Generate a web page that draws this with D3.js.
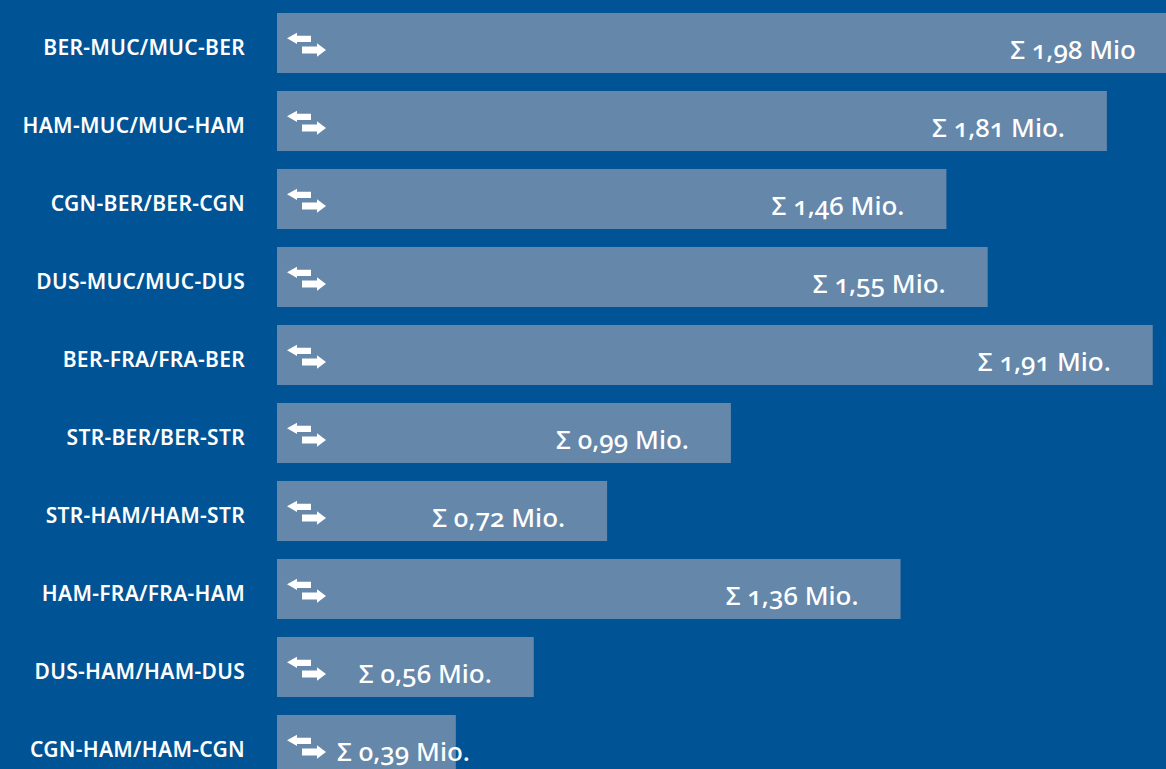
<!DOCTYPE html>
<html>
<head>
<meta charset="utf-8">
<script src="https://cdn.jsdelivr.net/npm/d3@7"></script>
<style>
	html, body { margin: 0; padding: 0; background: #005394; overflow: hidden; }
	svg { display: block; }
	text { font-family: "Noto Sans", "Open Sans", sans-serif; fill: #fff; }
</style>
</head>
<body>
<svg id="chart"></svg>
<script>
// routes, top to bottom
var routes = [
	"BER-MUC/MUC-BER",
	"HAM-MUC/MUC-HAM",
	"CGN-BER/BER-CGN",
	"DUS-MUC/MUC-DUS",
	"BER-FRA/FRA-BER",
	"STR-BER/BER-STR",
	"STR-HAM/HAM-STR",
	"HAM-FRA/FRA-HAM",
	"DUS-HAM/HAM-DUS",
	"CGN-HAM/HAM-CGN"
];
// passengers, million
var passengers = [1.98, 1.81, 1.46, 1.55, 1.91, 0.99, 0.72, 1.36, 0.56, 0.39];
var units = ["Mio", "Mio.", "Mio.", "Mio.", "Mio.", "Mio.", "Mio.", "Mio.", "Mio.", "Mio."];

var W = 1166, H = 769;
var barLeft = 277;

var de = d3.formatLocale({decimal: ",", thousands: ".", grouping: [3], currency: ["", " €"]});
var fmt = de.format(".2f");

var svg = d3.select("#chart")
	.attr("width", W)
	.attr("height", H);

var x = d3.scaleLinear()
	.domain([0, 2])
	.range([barLeft, barLeft + 917]);

var y = d3.scaleBand()
	.domain(routes)
	.range([4, 784])
	.paddingInner(0.23)
	.paddingOuter(0.115);

var rows = svg.selectAll(".row")
	.data(routes)
	.enter().append("g")
		.attr("class", "row")
		.attr("transform", function(d){ return "translate(0," + y(d) + ")"; });

rows.append("rect")
	.attr("x", barLeft)
	.attr("y", 0)
	.attr("width", function(d, i){ return x(passengers[i]) - barLeft; })
	.attr("height", y.bandwidth())
	.attr("fill", "#6587aa");

// route labels
rows.append("text")
	.attr("x", 245)
	.attr("y", 42.5)
	.attr("text-anchor", "end")
	.attr("font-size", 21)
	.attr("font-weight", 600)
	.style("letter-spacing", "0.3px")
	.text(function(d){ return d; });

// double arrow icon
var icon = rows.append("g")
	.attr("fill", "#fff");
icon.append("path")
	.attr("d", "M287,25.3 L297,19.7 L297,22.7 L311,22.7 L311,29 L297,29 L297,31 Z");
icon.append("path")
	.attr("d", "M326,37 L317,30.3 L317,33.5 L302,33.5 L302,40.5 L317,40.5 L317,43.7 Z");

// value labels
rows.append("text")
	.attr("class", "val")
	.attr("y", 46.5)
	.attr("font-size", 26)
	.attr("font-weight", 500)
	.attr("text-anchor", "end")
	.style("font-variant-numeric", "oldstyle-nums")
	.text(function(d, i){ return "Σ " + fmt(passengers[i]) + " " + units[i]; })
	.attr("x", function(d, i){
		var w = this.getComputedTextLength();
		var end = x(passengers[i]) > W ? W - 30 : x(passengers[i]) - 42;
		return Math.max(end, 337 + w);
	});
</script>
</body>
</html>
